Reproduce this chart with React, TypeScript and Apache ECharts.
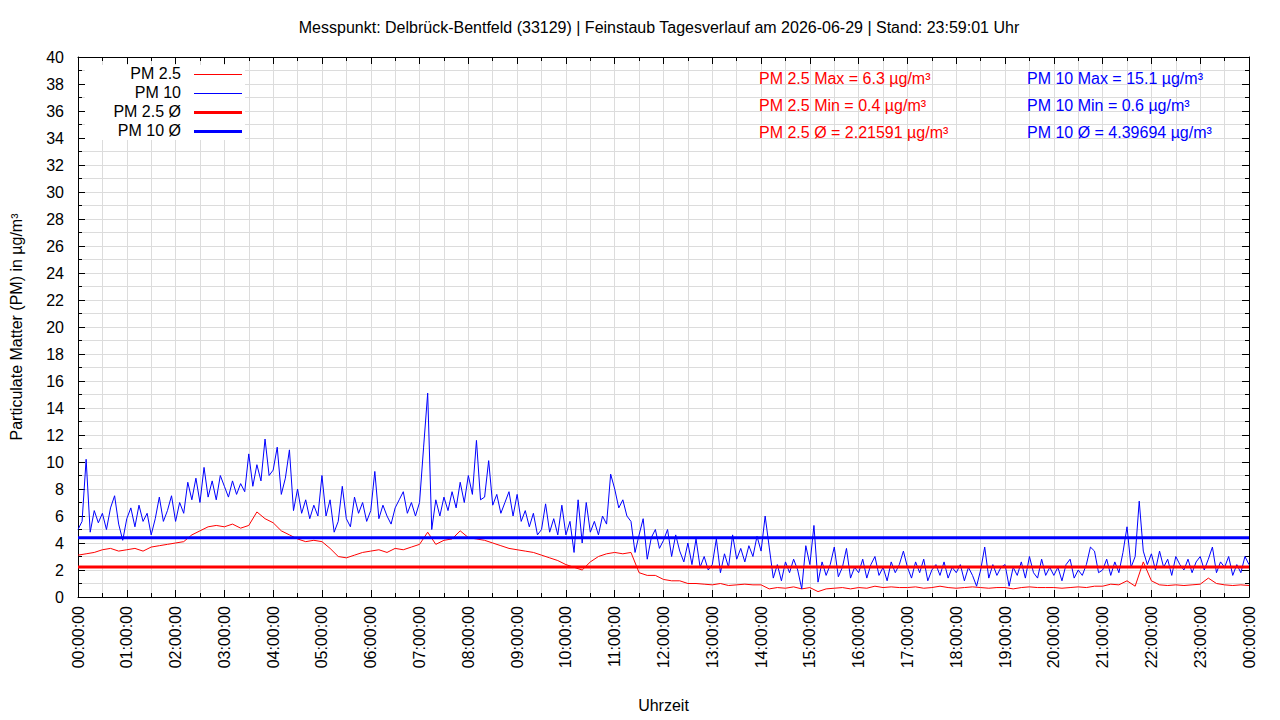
import React, { useEffect, useRef } from "react";
import * as echarts from "echarts";

const TITLE =
  "Messpunkt: Delbrück-Bentfeld (33129) | Feinstaub Tagesverlauf am 2026-06-29 | Stand: 23:59:01 Uhr";
const X_NAME = "Uhrzeit";
const Y_NAME = "Particulate Matter (PM) in µg/m³";

const SERIES_NAMES = ["PM 2.5", "PM 10", "PM 2.5 Ø", "PM 10 Ø"];
const SERIES_COLORS = ["#ff0000", "#0000ff", "#ff0000", "#0000ff"];

// PM 10, one value every 5 minutes from 00:00 to 24:00
const PM10_STEP_MIN = 5;
const pm10 = [
  5.0, 5.6, 10.2, 4.8, 6.4, 5.5, 6.2, 5.0, 6.6, 7.5, 5.4, 4.2,
  5.8, 6.6, 5.2, 6.8, 5.6, 6.2, 4.6, 5.8, 7.4, 5.6, 6.4, 7.5,
  5.6, 7.0, 6.2, 8.5, 7.2, 8.8, 7.0, 9.6, 7.4, 8.6, 7.2, 9.0,
  8.2, 7.4, 8.6, 7.6, 8.4, 7.8, 10.6, 8.2, 9.8, 8.6, 11.7, 9.0,
  9.4, 11.1, 7.6, 8.8, 10.9, 6.4, 8.0, 6.2, 7.2, 5.8, 6.8, 6.0,
  9.0, 6.0, 7.2, 4.8, 5.6, 8.2, 5.8, 5.2, 7.4, 6.2, 7.0, 5.6,
  6.4, 9.3, 5.8, 6.8, 6.0, 5.4, 6.6, 7.2, 7.8, 6.2, 7.0, 6.0,
  7.0, 11.1, 15.1, 5.0, 7.2, 6.0, 7.4, 6.4, 7.8, 6.6, 8.5, 7.0,
  9.0, 7.6, 11.6, 7.2, 7.4, 10.1, 6.8, 7.6, 6.2, 7.0, 7.8, 6.0,
  7.6, 5.6, 6.4, 5.2, 6.2, 4.6, 5.0, 6.9, 4.8, 5.8, 4.6, 6.8,
  4.6, 5.6, 3.3, 7.2, 4.0, 7.0, 4.8, 5.6, 4.6, 6.0, 5.4, 9.1,
  8.0, 6.6, 7.2, 6.0, 5.6, 3.3, 4.6, 5.8, 2.8, 4.4, 5.0, 3.6,
  4.2, 5.0, 3.0, 4.6, 3.4, 2.6, 4.0, 2.4, 4.3, 2.2, 3.0, 2.0,
  2.4, 4.3, 1.8, 3.2, 2.2, 4.6, 2.8, 3.6, 2.6, 3.8, 3.0, 4.5,
  3.4, 6.0, 3.7, 1.4, 2.4, 1.2, 2.6, 1.8, 2.8, 2.0, 0.6, 3.8,
  2.4, 5.3, 1.1, 2.6, 1.6, 2.4, 3.7, 1.5, 2.2, 3.6, 1.4, 2.2,
  1.8, 2.8, 1.4, 2.4, 3.0, 1.6, 2.2, 1.2, 2.6, 1.8, 2.4, 3.4,
  2.2, 1.4, 2.6, 1.8, 2.8, 1.2, 2.0, 2.4, 1.6, 2.6, 1.4, 2.2,
  1.8, 2.4, 1.2, 2.2, 1.6, 0.8, 2.0, 3.7, 1.4, 2.4, 1.6, 2.2,
  2.4, 0.8, 2.2, 1.6, 2.6, 1.4, 3.0, 1.8, 1.4, 2.8, 1.6, 2.2,
  1.6, 2.2, 1.2, 2.4, 2.8, 1.4, 2.0, 1.6, 2.4, 3.7, 3.4, 1.8,
  2.0, 2.8, 1.6, 2.6, 1.8, 3.3, 5.2, 2.2, 3.0, 7.1, 3.4, 2.4,
  3.2, 2.0, 3.4, 2.2, 2.8, 1.6, 3.0, 2.4, 2.0, 2.8, 1.8, 2.6,
  3.0, 2.0, 2.8, 3.7, 1.8, 2.6, 2.2, 3.0, 1.6, 2.4, 1.8, 3.0,
  2.4,
];

// PM 2.5, one value every 10 minutes from 00:00 to 24:00
const PM25_STEP_MIN = 10;
const pm25 = [
  3.1, 3.2, 3.3, 3.5, 3.6, 3.4,
  3.5, 3.6, 3.4, 3.7, 3.8, 3.9,
  4.0, 4.1, 4.6, 4.9, 5.2, 5.3,
  5.2, 5.4, 5.1, 5.3, 6.3, 5.8,
  5.5, 4.9, 4.6, 4.3, 4.1, 4.2,
  4.1, 3.6, 3.0, 2.9, 3.1, 3.3,
  3.4, 3.5, 3.3, 3.6, 3.5, 3.7,
  3.9, 4.8, 3.9, 4.2, 4.3, 4.9,
  4.4, 4.3, 4.2, 4.0, 3.8, 3.6,
  3.5, 3.4, 3.3, 3.1, 2.9, 2.7,
  2.4, 2.2, 2.0, 2.6, 3.0, 3.2,
  3.3, 3.2, 3.3, 1.8, 1.6, 1.6,
  1.3, 1.2, 1.2, 1.0, 1.0, 0.95,
  0.9, 1.0, 0.85, 0.9, 0.95, 0.9,
  0.9, 0.6, 0.7, 0.65, 0.75, 0.6,
  0.7, 0.4, 0.6, 0.65, 0.7, 0.6,
  0.7, 0.65, 0.8, 0.7, 0.75, 0.7,
  0.7, 0.75, 0.65, 0.7, 0.8, 0.7,
  0.65, 0.7, 0.75, 0.7, 0.65, 0.7,
  0.7, 0.6, 0.7, 0.75, 0.7, 0.7,
  0.7, 0.65, 0.7, 0.75, 0.7, 0.8,
  0.8, 0.95, 0.9, 1.2, 0.8, 2.6,
  1.2, 0.9, 0.85, 0.9, 0.85, 0.9,
  0.95, 1.4, 1.0, 0.9, 0.85, 0.9,
  0.85,
];

const PM25_AVG = 2.21591;
const PM10_AVG = 4.39694;

const STATS_PM25 = ["PM 2.5 Max = 6.3 µg/m³", "PM 2.5 Min = 0.4 µg/m³", "PM 2.5 Ø = 2.21591 µg/m³"];
const STATS_PM10 = ["PM 10 Max = 15.1 µg/m³", "PM 10 Min = 0.6 µg/m³", "PM 10 Ø = 4.39694 µg/m³"];

const DAY_SECONDS = 86400;
const FONT = "'Liberation Sans', Arial, sans-serif";
const GRID_COLOR = "#dcdcdc";

const toPairs = (vals: number[], stepMin: number) => vals.map((v, i) => [i * stepMin * 60, v]);

const fmtTime = (v: number) => {
  const h = Math.round(v / 3600) % 24;
  return (h < 10 ? "0" : "") + h + ":00:00";
};

export default function App() {
  const ref = useRef<HTMLDivElement>(null);
  useEffect(() => {
    document.body.style.margin = "0";
    const chart = echarts.init(ref.current!, null, { renderer: "svg" });

    const commonX = {
      type: "value",
      min: 0,
      max: DAY_SECONDS,
      interval: 3600,
      axisLine: { show: true, onZero: false, lineStyle: { color: "#000", width: 1 } },
      axisTick: { show: true, inside: true, length: 7, lineStyle: { color: "#000" } },
      minorTick: { show: true, splitNumber: 2, length: 4, lineStyle: { color: "#000" } },
    };
    const commonY = {
      type: "value",
      min: 0,
      max: 40,
      interval: 2,
      axisLine: { show: true, onZero: false, lineStyle: { color: "#000", width: 1 } },
      axisTick: { show: true, inside: true, length: 7, lineStyle: { color: "#000" } },
      minorTick: { show: true, splitNumber: 2, length: 4, lineStyle: { color: "#000" } },
    };

    const textStyle = (text: string, fill: string, align: string) => ({
      text,
      fill,
      fontSize: 16,
      fontFamily: FONT,
      textAlign: align,
      textVerticalAlign: "middle",
      lineWidth: 0,
    });

    const legendGraphics: any[] = [
      {
        type: "rect",
        z: 1,
        shape: { x: 85, y: 65, width: 160, height: 75 },
        style: { fill: "#fff", lineWidth: 0 },
      },
    ];
    SERIES_NAMES.forEach((name, i) => {
      const y = 73.5 + i * 19;
      legendGraphics.push({
        type: "text",
        z: 5,
        x: 181,
        y,
        style: textStyle(name, "#000", "right"),
      });
      legendGraphics.push({
        type: "line",
        z: 5,
        shape: { x1: 194, y1: y + 1, x2: 242, y2: y + 1 },
        style: { stroke: SERIES_COLORS[i], lineWidth: i < 2 ? 1 : 3 },
      });
    });
    const statGraphics: any[] = [];
    [STATS_PM25, STATS_PM10].forEach((lines, col) => {
      lines.forEach((t, r) => {
        statGraphics.push({
          type: "text",
          z: 5,
          x: col === 0 ? 759 : 1027,
          y: 78 + r * 27,
          style: textStyle(t, SERIES_COLORS[col], "left"),
        });
      });
    });

    chart.setOption({
      animation: false,
      backgroundColor: "#fff",
      textStyle: { fontFamily: FONT },
      title: {
        text: TITLE,
        left: 654,
        top: 14,
        textAlign: "center",
        textStyle: { fontSize: 16, fontWeight: "normal", color: "#000", fontFamily: FONT },
      },
      grid: { left: 74, right: 31, top: 57, bottom: 123, containLabel: false },
      xAxis: [
        {
          ...commonX,
          position: "bottom",
          name: X_NAME,
          nameLocation: "middle",
          nameGap: 100,
          nameTextStyle: { fontSize: 16, color: "#000", fontFamily: FONT },
          axisLabel: {
            rotate: 90,
            fontSize: 16,
            color: "#000",
            margin: 9,
            formatter: fmtTime,
            showMinLabel: true,
            showMaxLabel: true,
          },
          splitLine: { show: true, lineStyle: { color: GRID_COLOR, width: 1 } },
          minorSplitLine: { show: true, lineStyle: { color: GRID_COLOR, width: 1 } },
        },
        {
          ...commonX,
          position: "top",
          axisLabel: { show: false },
          splitLine: { show: false },
        },
      ],
      yAxis: [
        {
          ...commonY,
          position: "left",
          name: Y_NAME,
          nameLocation: "middle",
          nameGap: 54,
          nameTextStyle: { fontSize: 16, color: "#000", fontFamily: FONT },
          axisLabel: { fontSize: 16, color: "#000", margin: 14 },
          splitLine: { show: true, lineStyle: { color: GRID_COLOR, width: 1 } },
          minorSplitLine: { show: true, lineStyle: { color: GRID_COLOR, width: 1 } },
        },
        {
          ...commonY,
          position: "right",
          axisLabel: { show: false },
          splitLine: { show: false },
        },
      ],
      series: [
        {
          name: SERIES_NAMES[0],
          type: "line",
          z: 3,
          data: toPairs(pm25, PM25_STEP_MIN),
          showSymbol: false,
          symbol: "none",
          lineStyle: { color: SERIES_COLORS[0], width: 1 },
          itemStyle: { color: SERIES_COLORS[0] },
        },
        {
          name: SERIES_NAMES[1],
          type: "line",
          z: 3,
          data: toPairs(pm10, PM10_STEP_MIN),
          showSymbol: false,
          symbol: "none",
          lineStyle: { color: SERIES_COLORS[1], width: 1 },
          itemStyle: { color: SERIES_COLORS[1] },
        },
        {
          name: SERIES_NAMES[2],
          type: "line",
          z: 3,
          data: [
            [0, PM25_AVG],
            [DAY_SECONDS, PM25_AVG],
          ],
          showSymbol: false,
          symbol: "none",
          lineStyle: { color: SERIES_COLORS[2], width: 3 },
          itemStyle: { color: SERIES_COLORS[2] },
        },
        {
          name: SERIES_NAMES[3],
          type: "line",
          z: 3,
          data: [
            [0, PM10_AVG],
            [DAY_SECONDS, PM10_AVG],
          ],
          showSymbol: false,
          symbol: "none",
          lineStyle: { color: SERIES_COLORS[3], width: 3 },
          itemStyle: { color: SERIES_COLORS[3] },
        },
      ],
      graphic: [...legendGraphics, ...statGraphics],
    });
    return () => chart.dispose();
  }, []);
  return (
    <div
      ref={ref}
      style={{ position: "fixed", left: 0, top: 0, width: 1280, height: 720, background: "#fff" }}
    />
  );
}
